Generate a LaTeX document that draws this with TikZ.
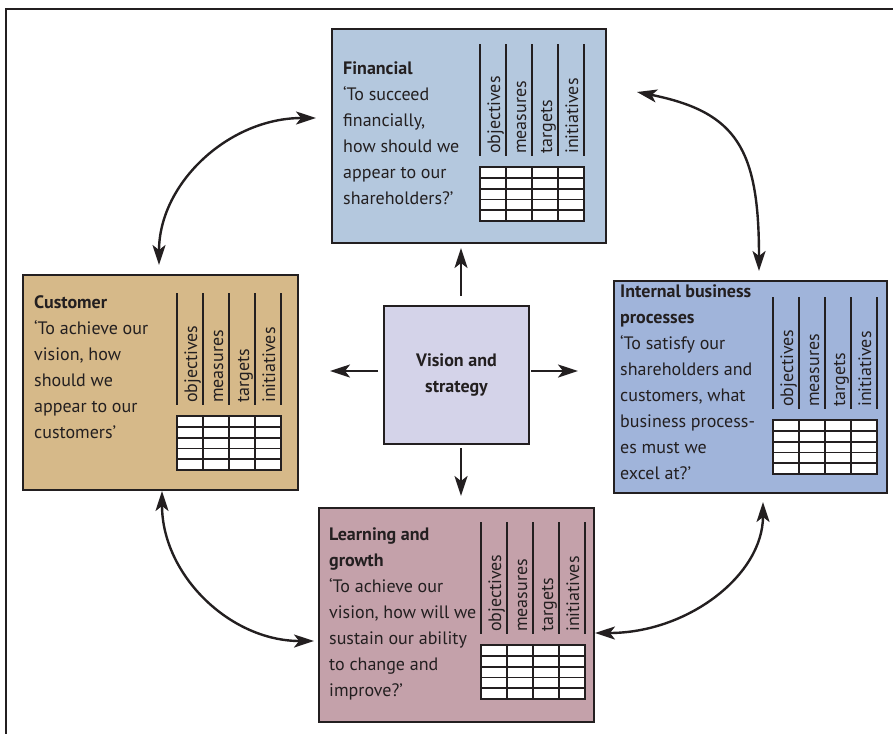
\documentclass[tikz,border=0pt]{standalone}
\usepackage{fontspec}
\setmainfont{PT Sans}
\usetikzlibrary{arrows.meta}

\definecolor{ink}{RGB}{35,31,32}
\definecolor{finblue}{RGB}{180,200,222}
\definecolor{procblue}{RGB}{160,180,218}
\definecolor{custtan}{RGB}{214,185,137}
\definecolor{learnrose}{RGB}{196,161,170}
\definecolor{visionlil}{RGB}{212,211,233}

% columns and table of one perspective
\newcommand{\scorecard}[1]{%
    \foreach \cx/\cname in {0/objectives,26/measures,52/targets,78/initiatives}{
        \draw[colline] (\cx,0) -- (\cx,112);
        \node[collbl] (#1-\cname) at (\cx+20,110) {\cname};
    }
    \draw[colline] (104,0) -- (104,112);
    \filldraw[cell] (0,123) rectangle (104,177);
    \foreach \ry in {133.8,144.6,155.4,166.2}
        \draw[cellline] (0,\ry) -- (104,\ry);
    \foreach \rx in {26,52,78}
        \draw[cellline] (\rx,123) -- (\rx,177);
}

\begin{document}
\begin{tikzpicture}[
        x=1pt, y=-1pt,
        every node/.style={text=ink, font=\fontsize{18}{26}\selectfont},
        persp/.style={draw=ink, line width=2pt, inner sep=0pt},
        qtext/.style={anchor=north west, align=left, inner sep=0pt},
        colline/.style={draw=ink, line width=2pt},
        collbl/.style={rotate=90, anchor=base west, inner sep=0pt},
        cell/.style={fill=white, draw=ink, line width=2.4pt},
        cellline/.style={draw=ink, line width=1.8pt},
        spoke/.style={draw=ink, line width=2.4pt, -{Stealth[length=20pt, width=13pt, inset=5pt]}},
        link/.style={draw=ink, line width=2.4pt, {Stealth[length=20pt, width=13pt, inset=5pt]}-{Stealth[length=20pt, width=13pt, inset=5pt]}}
    ]

    % frame
    \useasboundingbox (0,0) rectangle (893,734);
    \draw[line width=2pt, ink] (893,9) -- (6,9) -- (6,734);

    % Perspectives
    \node[persp, fill=finblue, minimum width=274pt, minimum height=214pt] (fin) at (469,136) {};
    \node[persp, fill=procblue, minimum width=273pt, minimum height=212pt] (proc) at (750.5,387) {};
    \node[persp, fill=custtan, minimum width=275pt, minimum height=215pt] (cust) at (160.5,382.5) {};
    \node[persp, fill=learnrose, minimum width=275pt, minimum height=214pt] (lrn) at (456.5,615) {};
    \node[persp, fill=visionlil, minimum width=145pt, minimum height=138pt, align=center,
        font=\bfseries\fontsize{18}{26}\selectfont] (vis) at (456.5,375) {Vision and\\strategy};

    % Financial
    \begin{scope}[shift={(fin.north west)}]
        \node[qtext] (fin-q) at (12,33) {\textbf{Financial}\\‘To succeed\\financially,\\how should we\\appear to our\\shareholders?’};
        \begin{scope}[shift={(149,16)}]
            \scorecard{fin}
        \end{scope}
    \end{scope}

    % Internal business processes
    \begin{scope}[shift={(proc.north west)}]
        \node[qtext] (proc-q) at (7,4) {\textbf{Internal business}\\\textbf{processes}\\‘To satisfy our\\shareholders and\\customers, what\\business process-\\es must we\\excel at?’};
        \begin{scope}[shift={(160,17)}]
            \scorecard{proc}
        \end{scope}
    \end{scope}

    % Customer
    \begin{scope}[shift={(cust.north west)}]
        \node[qtext] (cust-q) at (12,21) {\textbf{Customer}\\‘To achieve our\\vision, how\\should we\\appear to our\\customers’};
        \begin{scope}[shift={(155,19)}]
            \scorecard{cust}
        \end{scope}
    \end{scope}

    % Learning and growth
    \begin{scope}[shift={(lrn.north west)}]
        \node[qtext] (lrn-q) at (11,20) {\textbf{Learning and}\\\textbf{growth}\\‘To achieve our\\vision, how will we\\sustain our ability\\to change and\\improve?’};
        \begin{scope}[shift={(163,15)}]
            \scorecard{lrn}
        \end{scope}
    \end{scope}

    % spokes from vision and strategy
    \draw[spoke, shorten <=9pt, shorten >=4pt] ([xshift=4.5pt]vis.north) -- ([xshift=4.5pt]vis.north |- fin.south);
    \draw[spoke, shorten <=3pt, shorten >=11pt] ([xshift=4.5pt]vis.south) -- ([xshift=4.5pt]vis.south |- lrn.north);
    \draw[spoke, shorten <=5pt, shorten >=31pt] ([yshift=4pt]vis.west) -- ([yshift=4pt]vis.west -| cust.east);
    \draw[spoke, shorten <=1pt, shorten >=35pt] ([yshift=4pt]vis.east) -- ([yshift=4pt]vis.east -| proc.west);

    % links between perspectives
    \draw[link] ([xshift=-1.5pt,yshift=9pt]cust.north) .. controls +(0,-82) and +(-87,0) .. ([xshift=-15pt,yshift=18pt]fin.west);
    \draw[link] ([xshift=30pt,yshift=44pt]fin.east) .. controls +(100,20) and +(0,-122) .. ([xshift=8.5pt,yshift=9pt]proc.north);
    \draw[link] ([xshift=1.5pt]cust.south) .. controls +(0,84) and +(-84,0) .. ([xshift=-4pt,yshift=-26pt]lrn.west);
    \draw[link] ([xshift=12.5pt,yshift=-8pt]proc.south) .. controls +(0,73) and +(93,0) .. ([yshift=-18pt]lrn.east);

\end{tikzpicture}
\end{document}
